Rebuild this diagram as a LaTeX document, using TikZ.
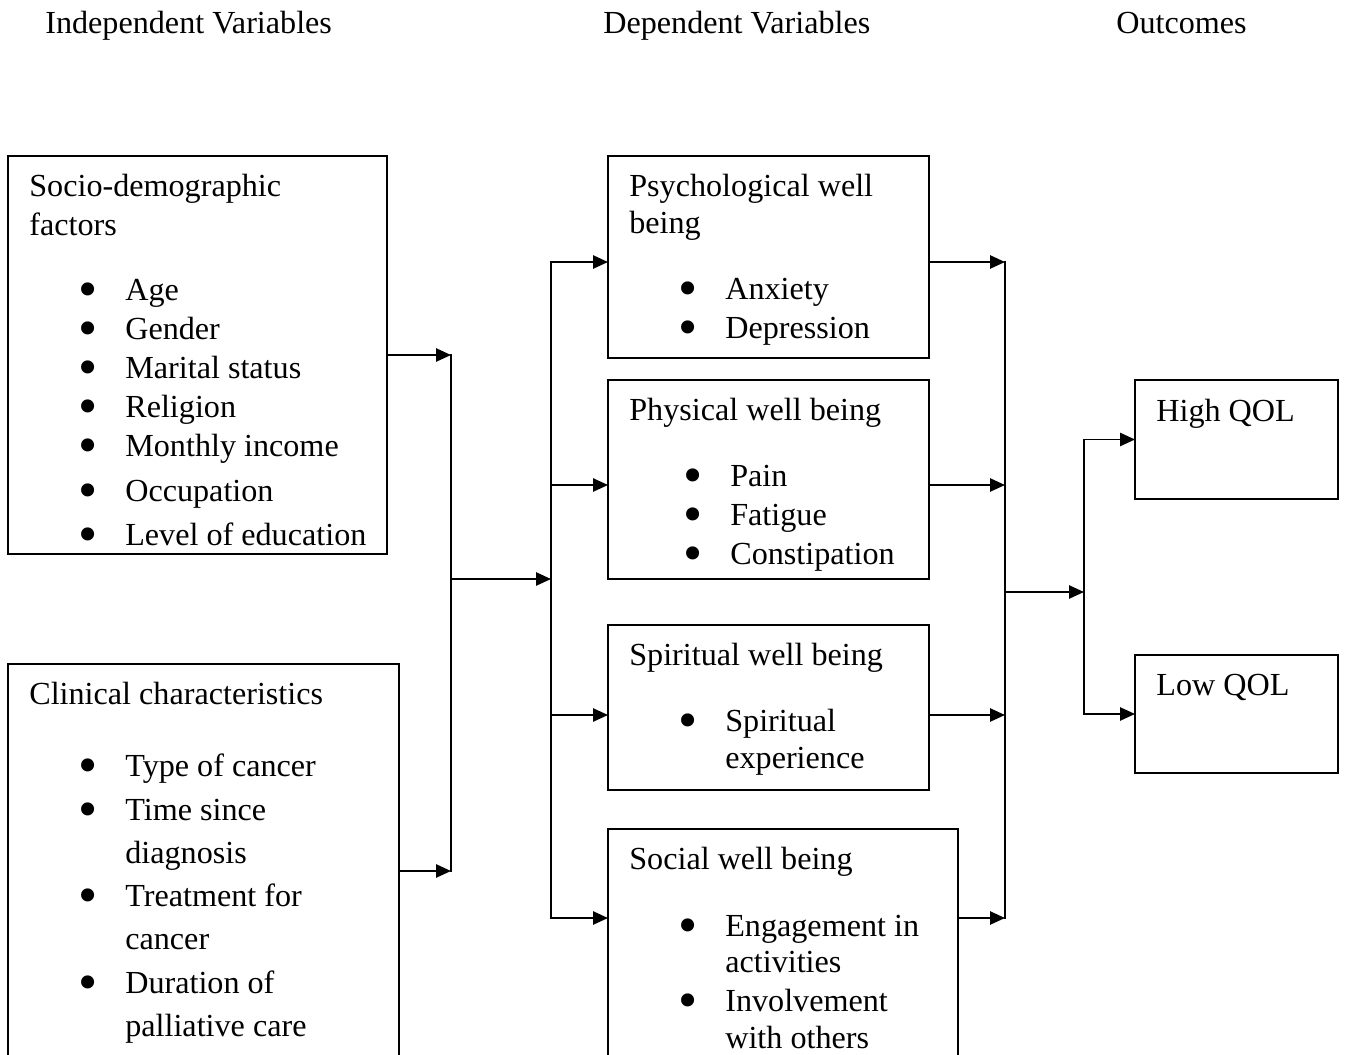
\documentclass[tikz,border=0pt]{standalone}
\usepackage{fontspec}
\usepackage{graphicx}
\setmainfont{Liberation Serif}
\usetikzlibrary{positioning}
\usetikzlibrary{arrows.meta}

\newcommand{\bigbul}{\smash{\raisebox{-0.22em}{\scalebox{1.7}{\textbullet}}}}
\newcommand{\bitem}[2][0cm]{\hspace*{#1}\makebox[1.92cm][l]{\hspace*{0.98cm}\bigbul}#2}
\newcommand{\bcont}[2][0cm]{\hspace*{#1}\hspace*{1.92cm}#2}

\begin{document}
\begin{tikzpicture}[x=0.02cm,y=-0.02cm,
      box/.style={draw, line width=1.1pt, anchor=north west, inner sep=0pt, outer sep=0pt},
      txt/.style={align=left, inner sep=0pt, font=\fontsize{18.3}{22.2}\selectfont},
      head/.style={anchor=base west, inner sep=0pt, font=\fontsize{18.3}{22.2}\selectfont},
      arr/.style={line width=1.1pt, -{Triangle[length=8.5pt,width=7.5pt]}},
      bus/.style={line width=1.1pt, line cap=rect}]
   \path[use as bounding box, clip] (0,0) rectangle (1346,1055);

   % column titles
   \node[head] (indep) at (45,33) {Independent Variables};
   \node[head] (dep) at (603,33) {Dependent Variables};
   \node[head] (outc) at (1116,33) {Outcomes};

   % independent variables
   \node[box, minimum width=7.58cm, minimum height=7.96cm] (socio) at (8,156) {};
   \node[txt, below right=0.36cm and 0.42cm of socio.north west] (sociotxt)
      {Socio-demographic\\factors\\[0.52cm]
       \bitem{Age}\\\bitem{Gender}\\\bitem{Marital status}\\\bitem{Religion}\\
       \bitem{Monthly income}\\[0.12cm]\bitem{Occupation}\\[0.1cm]
       \bitem{Level of education}};

   \node[box, minimum width=7.82cm, minimum height=8.28cm] (clinical) at (8,664) {};
   \node[txt, below right=0.36cm and 0.42cm of clinical.north west] (clinicaltxt)
      {Clinical characteristics\\[0.66cm]
       \bitem{Type of cancer}\\[0.09cm]\bitem{Time since}\\[0.08cm]
       \bcont{diagnosis}\\[0.09cm]\bitem{Treatment for}\\[0.08cm]
       \bcont{cancer}\\[0.09cm]\bitem{Duration of}\\[0.08cm]
       \bcont{palliative care}};

   % dependent variables
   \node[box, minimum width=6.42cm, minimum height=4.04cm] (psych) at (608,156) {};
   \node[txt, below right=0.36cm and 0.42cm of psych.north west] (psychtxt)
      {Psychological well\\[-0.04cm]being\\[0.54cm]
       \bitem{Anxiety}\\\bitem{Depression}};

   \node[box, minimum width=6.42cm, minimum height=3.98cm] (phys) at (608,380) {};
   \node[txt, below right=0.36cm and 0.42cm of phys.north west] (physprocess)
      {Physical well being\\[0.54cm]
       \bitem[0.1cm]{Pain}\\\bitem[0.1cm]{Fatigue}\\\bitem[0.1cm]{Constipation}};

   \node[box, minimum width=6.42cm, minimum height=3.30cm] (spirit) at (608,625) {};
   \node[txt, below right=0.36cm and 0.42cm of spirit.north west] (spirittxt)
      {Spiritual well being\\[0.54cm]
       \bitem{Spiritual}\\[-0.04cm]\bcont{experience}};

   \node[box, minimum width=7.0cm, minimum height=5.02cm] (social) at (608,829) {};
   \node[txt, below right=0.36cm and 0.42cm of social.north west] (socialtxt)
      {Social well being\\[0.56cm]
       \bitem{Engagement in}\\[-0.06cm]\bcont{activities}\\
       \bitem{Involvement}\\[-0.04cm]\bcont{with others}};

   % outcomes
   \node[box, minimum width=4.06cm, minimum height=2.38cm] (high) at (1135,380) {};
   \node[txt, below right=0.38cm and 0.42cm of high.north west] (hightxt) {High QOL};
   \node[box, minimum width=4.06cm, minimum height=2.36cm] (low) at (1135,655) {};
   \node[txt, below right=0.38cm and 0.42cm of low.north west] (lowtxt) {Low QOL};

   % junctions
   \coordinate (b1n) at (451,355);
   \coordinate (b1s) at (451,871);
   \coordinate (b1m) at (451,579);
   \coordinate (b2m) at (551,579);
   \coordinate (b2a) at (551,262);
   \coordinate (b2b) at (551,485);
   \coordinate (b2c) at (551,715);
   \coordinate (b2d) at (551,918);
   \coordinate (b3a) at (1005,262);
   \coordinate (b3b) at (1005,485);
   \coordinate (b3c) at (1005,715);
   \coordinate (b3d) at (1005,918);
   \coordinate (b3m) at (1005,592);
   \coordinate (b4m) at (1084,592);
   \coordinate (b4a) at (high.west -| b4m);
   \coordinate (b4b) at (low.west -| b4m);

   \draw[arr] (socio.east) -- (b1n);
   \draw[arr] (clinical.east) -- (b1s);
   \draw[bus] (b1n) -- (b1s);
   \draw[arr] (b1m) -- (b2m);

   \draw[bus] (b2a) -- (b2d);
   \draw[arr] (b2a) -- (b2a -| psych.west);
   \draw[arr] (b2b) -- (b2b -| phys.west);
   \draw[arr] (b2c) -- (b2c -| spirit.west);
   \draw[arr] (b2d) -- (b2d -| social.west);

   \draw[arr] (psych.east |- b3a) -- (b3a);
   \draw[arr] (phys.east |- b3b) -- (b3b);
   \draw[arr] (spirit.east |- b3c) -- (b3c);
   \draw[arr] (social.east |- b3d) -- (b3d);
   \draw[bus] (b3a) -- (b3d);
   \draw[arr] (b3m) -- (b4m);

   \draw[bus] (b4a) -- (b4b);
   \draw[arr] (b4a) -- (high.west);
   \draw[arr] (b4b) -- (low.west);
\end{tikzpicture}
\end{document}
